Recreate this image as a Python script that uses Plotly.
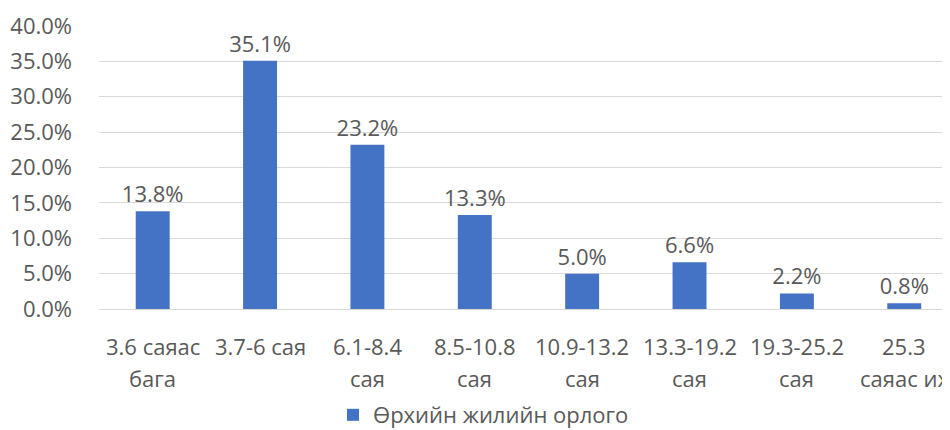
import plotly.graph_objects as go

line1 = ["3.6 саяас", "3.7-6 сая", "6.1-8.4", "8.5-10.8", "10.9-13.2", "13.3-19.2", "19.3-25.2", "25.3"]
line2 = ["бага", "", "сая", "сая", "сая", "сая", "сая", "саяас их"]
values = [13.8, 35.1, 23.2, 13.3, 5.0, 6.6, 2.2, 0.8]
yticks = [0, 5, 10, 15, 20, 25, 30, 35, 40]
series_name = "Өрхийн жилийн орлого"

FONT = "Open Sans"
TXT = "#595959"
FS = 22

x = list(range(len(values)))
fig = go.Figure()
fig.add_trace(go.Bar(
    x=x, y=values, name=series_name, width=0.316,
    marker=dict(color="#4472c4", line=dict(width=0)),
    text=[f"{v:.1f}%" for v in values], textposition="outside",
    textfont=dict(family=FONT, size=FS, color=TXT), cliponaxis=False,
    constraintext="none",
    showlegend=True,
))

annotations = []
for i in range(len(values)):
    annotations.append(dict(x=x[i], y=-0.131, xref="x", yref="paper", text=line1[i],
                            showarrow=False, font=dict(family=FONT, size=FS, color=TXT),
                            yanchor="middle"))
    if line2[i]:
        annotations.append(dict(x=x[i], y=-0.244, xref="x", yref="paper", text=line2[i],
                                showarrow=False, font=dict(family=FONT, size=FS, color=TXT),
                                yanchor="middle"))

fig.update_layout(
    width=942, height=422,
    margin=dict(l=91, r=0, t=18, b=121, autoexpand=False),
    paper_bgcolor="white", plot_bgcolor="white",
    font=dict(family=FONT, size=FS, color=TXT),
    xaxis=dict(range=[-0.5, 7.426], showticklabels=False, showgrid=False, automargin=False,
               showline=True, linecolor="#d9d9d9", linewidth=1, ticks="", zeroline=False),
    yaxis=dict(range=[0, 40], tickvals=yticks, ticktext=[f"{v:.1f}%" for v in yticks],
               showgrid=True, gridcolor="#d9d9d9", gridwidth=1, zeroline=False, automargin=False,
               ticks="", ticklabelstandoff=26, tickfont=dict(family=FONT, size=FS, color=TXT)),
    legend=dict(orientation="h", xref="container", yref="container", x=0.345, y=0.0355,
                xanchor="left", yanchor="middle", font=dict(family=FONT, size=FS, color=TXT),
                itemwidth=30),
    annotations=annotations,
)

fig.write_html("out.html")
